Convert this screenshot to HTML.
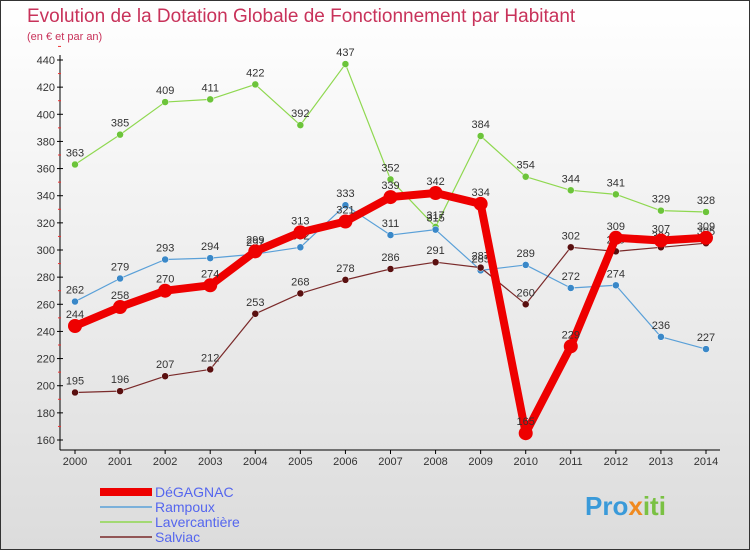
<!DOCTYPE html>
<html><head><meta charset="utf-8"><style>
body{margin:0;width:750px;height:550px;overflow:hidden;font-family:"Liberation Sans",sans-serif}
#wrap{position:absolute;left:0;top:0;width:748px;height:548px;border:1px solid #333;background:linear-gradient(#ffffff,#dcdcdc)}
</style></head><body>
<div id="wrap"></div>
<svg id="c" width="750" height="550" style="position:absolute;left:0;top:0">
<text x="27" y="22" font-size="19" fill="#c8325a">Evolution de la Dotation Globale de Fonctionnement par Habitant</text>
<text x="27" y="40" font-size="11" fill="#c8325a">(en € et par an)</text>
<g id="axes"></g><g id="series"></g><g id="legend"></g>
<text x="585" y="515" font-size="26" font-weight="bold" fill="#3a9ad9">Pro<tspan fill="#f08a20">x</tspan><tspan fill="#7ac143">iti</tspan></text>
</svg>
<script>
const years=[2000,2001,2002,2003,2004,2005,2006,2007,2008,2009,2010,2011,2012,2013,2014];
const yTicks=[160,180,200,220,240,260,280,300,320,340,360,380,400,420,440];
const degagnac=[244,258,270,274,299,313,321,339,342,334,165,229,309,307,309];
const rampoux=[262,279,293,294,297,302,333,311,315,285,289,272,274,236,227];
const lavercantiere=[363,385,409,411,422,392,437,352,317,384,354,344,341,329,328];
const salviac=[195,196,207,212,253,268,278,286,291,287,260,302,299,302,305];
const NS="http://www.w3.org/2000/svg";
function X(i){return 75+i*(706-75)/14;}
function Y(v){return 440-(v-160)*380/280;}
function mk(t,a,p){const e=document.createElementNS(NS,t);for(const k in a)e.setAttribute(k,a[k]);p.appendChild(e);return e;}
const ax=document.getElementById('axes');
let l=mk('line',{x1:60,y1:55,x2:60,y2:450,stroke:'#000'},ax);


l=mk('line',{x1:60,y1:450,x2:720,y2:450,stroke:'#000'},ax);


yTicks.forEach(v=>{mk('line',{x1:57,y1:Y(v),x2:63,y2:Y(v),stroke:'#000'},ax);
mk('line',{x1:58,y1:Y(v+10),x2:61,y2:Y(v+10),stroke:'#e33'},ax);
const t=mk('text',{x:55,y:Y(v)+4,'font-size':11,'text-anchor':'end',fill:'#333'},ax);t.textContent=v;

});
years.forEach((y,i)=>{mk('line',{x1:X(i),y1:450,x2:X(i),y2:454,stroke:'#000'},ax);
const t=mk('text',{x:X(i),y:465,'font-size':11,'text-anchor':'middle',fill:'#333'},ax);t.textContent=y;

});
const sg=document.getElementById('series');
const S=[[lavercantiere,'#8fd850','#6cc43a',1.2,3.5,'lavercantiere'],[rampoux,'#5aa0d8','#3a88c8',1.2,3.5,'rampoux'],[salviac,'#7a2a2a','#5a1010',1.2,3.5,'salviac'],[degagnac,'#ee0000','#ee0000',8,7,'degagnac']];
S.forEach(([d,c,dc,w,r,n])=>{const g=mk('g',{},sg);


mk('polyline',{points:d.map((v,i)=>X(i)+','+Y(v)).join(' '),fill:'none',stroke:c,'stroke-width':w,'stroke-linejoin':'round'},g);
d.forEach((v,i)=>{const p=mk('circle',{cx:X(i),cy:Y(v),r:r,fill:dc,stroke:w>2?'none':'#fff','stroke-width':0.5},g);


const t=mk('text',{x:X(i),y:Y(v)-8,'font-size':11,'text-anchor':'middle',fill:'#333'},g);t.textContent=v;});});
const lg=document.getElementById('legend');
[['DéGAGNAC','#ee0000',8],['Rampoux','#5aa0d8',1.5],['Lavercantière','#8fd850',1.5],['Salviac','#7a2a2a',1.5]].forEach(([n,c,w],i)=>{
const y=492+i*15;const g=mk('g',{},lg);


mk('line',{x1:100,y1:y,x2:152,y2:y,stroke:c,'stroke-width':w},g);
const t=mk('text',{x:155,y:y+5,'font-size':14,fill:'#5566ee'},g);t.textContent=n;});
</script>
</body></html>
